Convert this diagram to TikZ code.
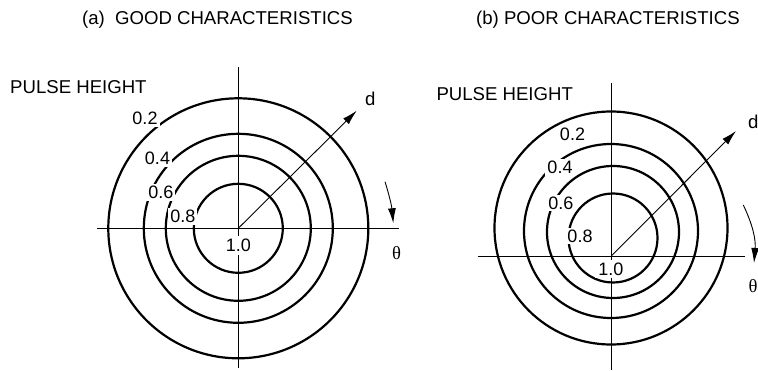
\documentclass[tikz,border=0pt]{standalone}
\usepackage{fontspec}
\setmainfont{Liberation Sans}
\newfontfamily\thetafont{Liberation Serif}
\usetikzlibrary{arrows.meta, positioning, calc}

\begin{document}
\begin{tikzpicture}[x=1pt, y=-1pt, >={Latex[length=15pt,width=8pt]},
  every node/.style={font=\fontsize{18.6}{22}\selectfont, inner sep=0pt},
  contour/.style={line width=2.2pt},
  axis/.style={line width=0.9pt},
  level/.style={fill=white, inner sep=2pt, font=\fontsize{18}{22}\selectfont}]
  \useasboundingbox (0,0) rectangle (758,371);
  % (a) good characteristics
  \coordinate (oa) at (238.3,228.3);
  \coordinate (ha1) at (97,228.3);  \coordinate (ha2) at (399,228.3);
  \coordinate (va1) at (238.3,67);  \coordinate (va2) at (238.3,368);
  \coordinate (da) at (356.7,110.7);
  \coordinate (ta1) at (385,181.7); \coordinate (ta2) at (393.3,223.3);
  \draw[axis] (ha1) -- (ha2);
  \draw[axis] (va1) -- (va2);
  \foreach \r in {130,94.5,72.5,44.5}
    \draw[contour] (oa) circle[radius=\r];
  \draw[->, axis] (oa) -- (da);
  \draw[->, axis] (ta1) to[bend left=6] (ta2);
  \node[anchor=base east] (titlea) at (353,25) {(a)\hspace{0.55em}GOOD CHARACTERISTICS};
  \node[anchor=base west] (pha) at (10,94) {PULSE HEIGHT};
  \node[anchor=base west] (dla) at (365,106) {d};
  \node (tha) at (396.7,253) {\thetafont θ};
  \node[level] (a2) at (145,118.8) {0.2};
  \node[level] (a4) at (157.5,158.8) {0.4};
  \node[level] (a6) at (160.8,192.2) {0.6};
  \node[level] (a8) at (182.8,216.3) {0.8};
  \node[level, inner sep=3pt] (a10) at (238.3,245.8) {1.0};
  % (b) poor characteristics
  \coordinate (ob) at (611.3,256);
  \coordinate (hb1) at (478,256);   \coordinate (hb2) at (745,256);
  \coordinate (vb1) at (611.3,83);  \coordinate (vb2) at (611.3,370);
  \coordinate (db) at (736,131);
  \coordinate (tb1) at (743.3,205); \coordinate (tb2) at (754,263);
  \draw[axis] (hb1) -- (hb2);
  \draw[axis] (vb1) -- (vb2);
  \draw[contour] (611,228) circle[radius=116.5];
  \draw[contour] (611,231) circle[radius=87];
  \draw[contour] (613,232) circle[radius=66];
  \draw[contour] (613,238) circle[radius=44.5];
  \draw[->, axis] (ob) -- (db);
  \draw[->, axis] (tb1) to[bend left=15] (tb2);
  \node[anchor=base west] (titleb) at (476,25) {(b) POOR CHARACTERISTICS};
  \node[anchor=base west] (phb) at (436.3,100.7) {PULSE HEIGHT};
  \node[anchor=base west] (dlb) at (748,129) {d};
  \node (thb) at (753,286) {\thetafont θ};
  \node[level] (b2) at (572.5,134.5) {0.2};
  \node[level] (b4) at (560,167.8) {0.4};
  \node[level] (b6) at (560.8,203) {0.6};
  \node[level] (b8) at (580,236) {0.8};
  \node[level, inner sep=3pt] (b10) at (610.8,269) {1.0};
\end{tikzpicture}
\end{document}
